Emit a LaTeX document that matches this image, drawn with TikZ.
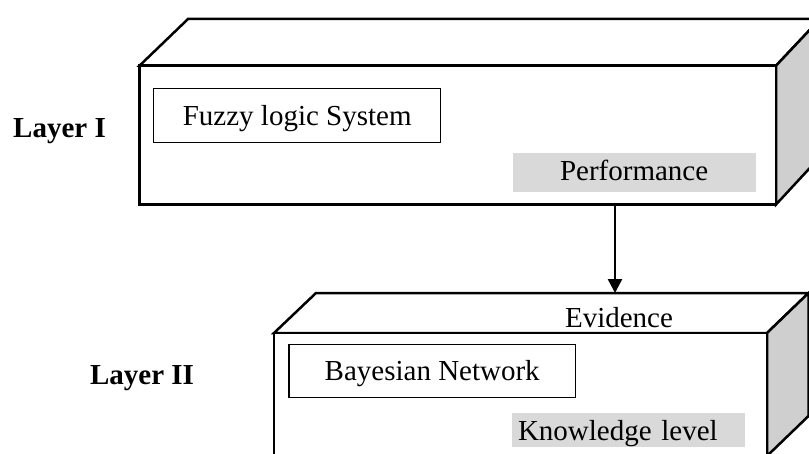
\documentclass[tikz,border=0pt]{standalone}
\usepackage{fontspec}
\setmainfont{Liberation Serif}
\usetikzlibrary{arrows.meta}
\newdimen\pxu
\pxu=0.75pt
\definecolor{sidegray}{HTML}{CFCFCF}
\definecolor{tabgray}{HTML}{D9D9D9}
\tikzset{
  txt/.style={font=\fontsize{21.75pt}{26pt}\selectfont, inner sep=0pt},
  layerlbl/.style={txt, font=\fontsize{21.75pt}{26pt}\selectfont\bfseries, anchor=base},
  edge/.style={line width=2.5\pxu, line join=miter},
  sysbox/.style={txt, draw, line width=1.1\pxu, fill=white},
  tagbox/.style={txt, fill=tabgray},
  flow/.style={line width=1.875pt, -{Triangle[length=10.5pt,width=10.5pt]}},
}
\begin{document}
\begin{tikzpicture}[x=1\pxu, y=-1\pxu]
\useasboundingbox (0,0) rectangle (809,453);
\clip (0,0) rectangle (809,453);

% ---- Layer I block ----
\coordinate (t-fl) at (139.5,65.7);
\coordinate (t-fr) at (776,65.7);
\coordinate (t-br) at (776,204.5);
\coordinate (t-bl) at (139.5,204.5);
\coordinate (t-kl) at (188,19);
\coordinate (t-kr) at (820,19);
\coordinate (t-kb) at (820,157);
\filldraw[edge, fill=white] (t-fl) -- (t-kl) -- (t-kr) -- (t-fr) -- cycle;
\filldraw[edge, fill=sidegray] (t-fr) -- (t-kr) -- (t-kb) -- (t-br) -- cycle;
\filldraw[edge, fill=white] (t-fl) rectangle (t-br);

\node[sysbox, minimum width=286.7\pxu, minimum height=54.4\pxu,
      text height=22\pxu, text depth=3\pxu] (fls) at (297.2,115.5) {Fuzzy logic System};
\node[tagbox, minimum width=243.2\pxu, minimum height=38.4\pxu,
      text height=20.4\pxu, text depth=4\pxu] (perf) at (634.1,172.5) {Performance};
\node[layerlbl] (l1) at (59.5,137) {Layer I};

% ---- Layer II block ----
\coordinate (b-fl) at (274,333);
\coordinate (b-fr) at (767,333);
\coordinate (b-br) at (767,456);
\coordinate (b-bl) at (274,456);
\coordinate (b-kl) at (316,293);
\coordinate (b-kr) at (808.5,293);
\coordinate (b-kb) at (808.5,416);
\filldraw[edge, fill=white] (b-fl) -- (b-kl) -- (b-kr) -- (b-fr) -- cycle;
\filldraw[edge, fill=sidegray] (b-fr) -- (b-kr) -- (b-kb) -- (b-br) -- cycle;
\filldraw[edge, fill=white] (b-fl) rectangle (b-br);

\node[txt, anchor=base] (ev) at (619,327.7) {Evidence};
\node[sysbox, minimum width=286.5\pxu, minimum height=53.4\pxu,
      text height=22.4\pxu, text depth=3\pxu] (bn) at (432.2,371) {Bayesian Network};
\node[tagbox, inner xsep=5.7\pxu, text width=221.3\pxu, align=left,
      minimum height=33.4\pxu, text height=22\pxu, text depth=2\pxu] (kl) at (628.7,430) {Knowledge level};
\node[layerlbl] (l2) at (142,384) {Layer II};

% ---- connector between the layers ----
\coordinate (out1) at (615,205.5);
\coordinate (in2) at (615,293);
\draw[flow] (out1) -- (in2);
\end{tikzpicture}
\end{document}
